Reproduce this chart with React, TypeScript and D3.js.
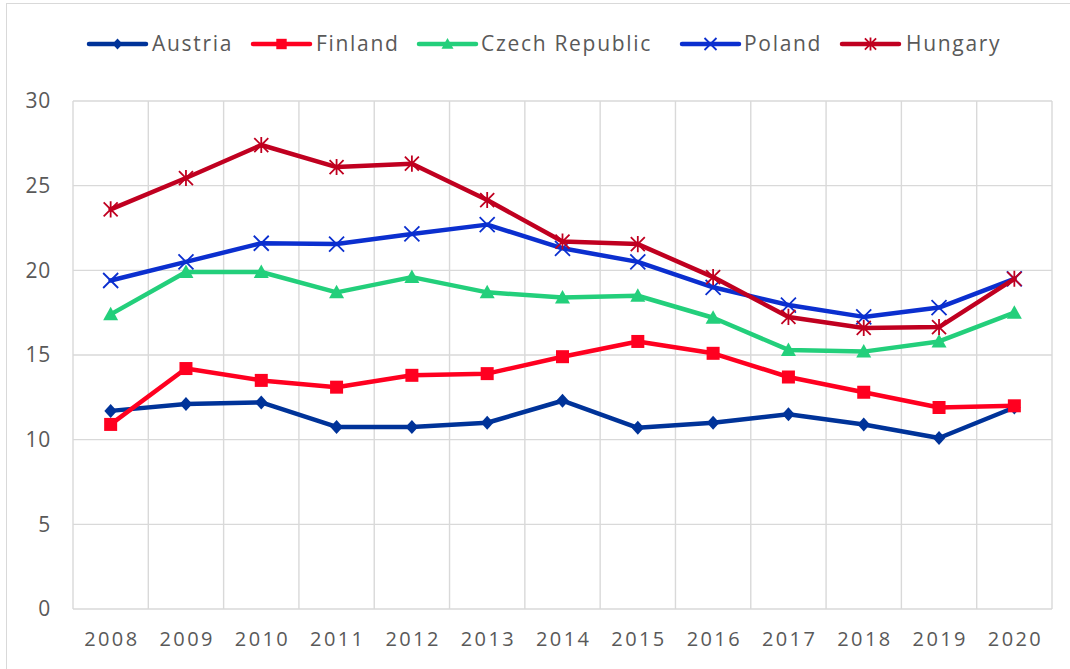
import React from "react";
import * as d3 from "d3";

const years = ["2008","2009","2010","2011","2012","2013","2014","2015","2016","2017","2018","2019","2020"];
const austria = [11.7,12.1,12.2,10.75,10.75,11.0,12.3,10.7,11.0,11.5,10.9,10.1,11.9];
const finland = [10.9,14.2,13.5,13.1,13.8,13.9,14.9,15.8,15.1,13.7,12.8,11.9,12.0];
const czech = [17.4,19.9,19.9,18.7,19.6,18.7,18.4,18.5,17.2,15.3,15.2,15.8,17.5];
const poland = [19.4,20.5,21.6,21.55,22.15,22.7,21.3,20.5,19.0,17.95,17.25,17.8,19.5];
const hungary = [23.6,25.45,27.4,26.1,26.3,24.15,21.7,21.55,19.6,17.25,16.6,16.65,19.5];
const yTicks = [0,5,10,15,20,25,30];

const series = [
  { name: "Austria", values: austria, color: "#003399", marker: "diamond" },
  { name: "Finland", values: finland, color: "#FF0020", marker: "square" },
  { name: "Czech Republic", values: czech, color: "#23CF7B", marker: "triangle" },
  { name: "Poland", values: poland, color: "#0B2FCF", marker: "x" },
  { name: "Hungary", values: hungary, color: "#C00020", marker: "star" },
];

const W = 1070, H = 669;
const left = 73, right = 1052, top = 101, bottom = 609;
const FONT = "'Open Sans', 'Noto Sans', sans-serif";
const GRAY = "#595959";

function Marker({ type, x, y, color, s = 1 }: { type: string; x: number; y: number; color: string; s?: number }) {
  if (type === "diamond") {
    const r = 7 * s;
    return <path d={`M${x},${y - r}L${x + r * 0.9},${y}L${x},${y + r}L${x - r * 0.9},${y}Z`} fill={color} />;
  }
  if (type === "square") {
    const r = 6.5 * s;
    return <rect x={x - r} y={y - r} width={2 * r} height={2 * r} fill={color} />;
  }
  if (type === "triangle") {
    const r = 7.5 * s;
    return <path d={`M${x},${y - r}L${x + r},${y + r * 0.8}L${x - r},${y + r * 0.8}Z`} fill={color} />;
  }
  if (type === "x") {
    const r = 7.5 * s;
    return <path d={`M${x - r},${y - r}L${x + r},${y + r}M${x - r},${y + r}L${x + r},${y - r}`} stroke={color} strokeWidth={1.8} />;
  }
  const r = 7 * s;
  return (
    <path
      d={`M${x - r},${y - r}L${x + r},${y + r}M${x - r},${y + r}L${x + r},${y - r}M${x},${y - r * 1.15}L${x},${y + r * 1.15}`}
      stroke={color}
      strokeWidth={1.8}
    />
  );
}

export default function App() {
  const x = d3.scaleBand<string>().domain(years).range([left, right]);
  const y = d3.scaleLinear().domain([0, 30]).range([bottom, top]);
  const cx = (d: string) => (x(d) as number) + x.bandwidth() / 2;
  const line = d3
    .line<number>()
    .x((_, i) => cx(years[i]))
    .y((v) => y(v));

  const legendPos = [
    { lx: 89, tx: 152 },
    { lx: 253, tx: 316 },
    { lx: 419, tx: 481 },
    { lx: 682, tx: 744 },
    { lx: 842, tx: 906 },
  ];

  const vLines = years.map((d) => x(d) as number).concat([right]);

  return (
    <div style={{ position: "absolute", left: 0, top: 0 }}>
      <svg width={W} height={H} style={{ display: "block", background: "#fff" }}>
        <rect x={6.5} y={3.5} width={W + 10} height={H + 10} fill="#fff" stroke="#d9d9d9" />
        {yTicks.map((t) => (
          <line key={"h" + t} x1={left} x2={right} y1={y(t)} y2={y(t)} stroke="#d9d9d9" strokeWidth={1.4} />
        ))}
        {vLines.map((v, i) => (
          <line key={"v" + i} x1={v} x2={v} y1={top} y2={bottom} stroke="#d9d9d9" strokeWidth={1.4} />
        ))}
        {yTicks.map((t) => (
          <text key={"yt" + t} x={51} y={y(t)} dy="0.35em" textAnchor="end" fontFamily={FONT} fontSize={21} fill={GRAY} letterSpacing={0.8}>
            {t}
          </text>
        ))}
        {years.map((d) => (
          <text key={"xt" + d} x={cx(d) + 1.2} y={646} textAnchor="middle" fontFamily={FONT} fontSize={20} fill={GRAY} letterSpacing={2.4}>
            {d}
          </text>
        ))}
        {series.map((s) => (
          <g key={s.name}>
            <path d={line(s.values) || ""} fill="none" stroke={s.color} strokeWidth={4.5} strokeLinejoin="round" strokeLinecap="round" />
            {s.values.map((v, i) => (
              <Marker key={i} type={s.marker} x={cx(years[i])} y={y(v)} color={s.color} />
            ))}
          </g>
        ))}
        {series.map((s, i) => {
          const p = legendPos[i];
          return (
            <g key={"lg" + s.name}>
              <line x1={p.lx} x2={p.lx + 57} y1={44} y2={44} stroke={s.color} strokeWidth={4.5} strokeLinecap="round" />
              <Marker type={s.marker} x={p.lx + 28.5} y={44} color={s.color} s={0.8} />
              <text x={p.tx} y={44} dy="0.35em" fontFamily={FONT} fontSize={21} fill={GRAY} letterSpacing={1.7}>
                {s.name}
              </text>
            </g>
          );
        })}
      </svg>
    </div>
  );
}
